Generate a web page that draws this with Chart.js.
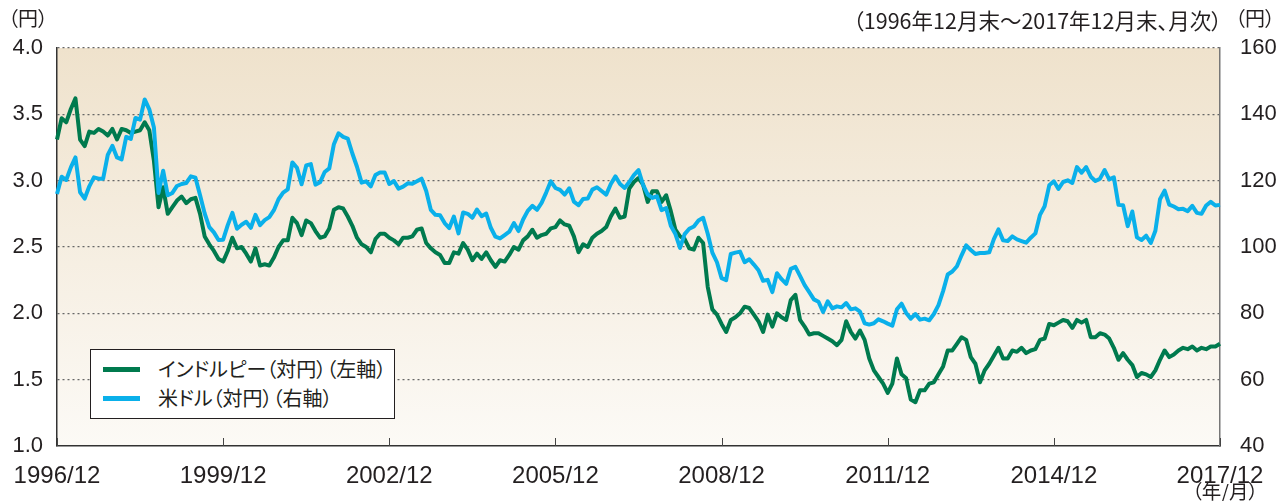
<!DOCTYPE html>
<html lang="ja">
<head>
<meta charset="utf-8">
<script src="https://cdn.jsdelivr.net/npm/chart.js@4"></script>
<style>
  html, body { margin: 0; padding: 0; background: #fff; }
  #wrap { position: relative; width: 1277px; height: 501px; overflow: hidden; }
  #chart { position: absolute; left: 0; top: 0; }
  .jp {
    position: absolute;
    font-family: "Noto Sans CJK JP", "Noto Sans", sans-serif;
    font-feature-settings: "palt";
    color: #231f20;
    white-space: nowrap;
    line-height: 1;
  }
  #legend {
    position: absolute; left: 90px; top: 349px; width: 303px; height: 68px;
    border: 1px solid #231f20; background: #fff;
  }
  .row { position: absolute; left: 12px; height: 22px; }
  .row .swatch { position: absolute; left: 0; top: 9px; width: 37px; height: 5px; }
  .row .txt { left: 55px; top: 1px; font-size: 20px; }
</style>
</head>
<body>
<div id="wrap">
  <canvas id="chart" width="1277" height="501"></canvas>
  <div class="jp" style="left:8px; top:8px; font-size:20px;">（円）</div>
  <div class="jp" style="right:55px; top:9px; font-size:21.5px;">（1996年12月末〜2017年12月末、月次）</div>
  <div class="jp" style="left:1235px; top:8px; font-size:20px;">（円）</div>
  <div class="jp" style="left:1192px; top:481px; font-size:19.5px;">（年/月）</div>
  <div id="legend">
    <div class="row" style="top:8px;"><div class="swatch" style="background:#007a4e"></div><div class="jp txt">インドルピー（対円）（左軸）</div></div>
    <div class="row" style="top:37px;"><div class="swatch" style="background:#0ab0ea"></div><div class="jp txt">米ドル（対円）（右軸）</div></div>
  </div>
</div>
<script>
// month-end labels, 1996/12 .. 2017/12
const months = [];
for (let y = 1996; y <= 2017; y++) {
    for (let m = 1; m <= 12; m++) {
        if (y === 1996 && m < 12) continue;
        months.push(y + '/' + m);
    }
}
const xTickLabels = ['1996/12', '1999/12', '2002/12', '2005/12', '2008/12', '2011/12', '2014/12', '2017/12'];

// INR/JPY (left axis)
const inrJpy = [
    3.31,
    3.47, 3.44, 3.54, 3.62, 3.31, 3.26, 3.37, 3.36, 3.39, 3.37, 3.34, 3.39,
    3.31, 3.39, 3.38, 3.36, 3.37, 3.38, 3.44, 3.38, 3.15, 2.80, 2.95, 2.75,
    2.80, 2.85, 2.88, 2.83, 2.86, 2.87, 2.75, 2.58, 2.52, 2.47, 2.41, 2.39,
    2.47, 2.57, 2.49, 2.50, 2.45, 2.39, 2.49, 2.36, 2.37, 2.36, 2.42, 2.50,
    2.55, 2.55, 2.72, 2.68, 2.59, 2.70, 2.68, 2.62, 2.57, 2.58, 2.64, 2.78,
    2.80, 2.79, 2.73, 2.66, 2.57, 2.52, 2.50, 2.46, 2.56, 2.60, 2.60, 2.57,
    2.55, 2.52, 2.57, 2.57, 2.58, 2.63, 2.64, 2.53, 2.49, 2.46, 2.44, 2.38,
    2.38, 2.46, 2.45, 2.53, 2.48, 2.40, 2.45, 2.41, 2.46, 2.40, 2.35, 2.40,
    2.39, 2.44, 2.50, 2.48, 2.55, 2.58, 2.63, 2.57, 2.59, 2.60, 2.64, 2.65,
    2.70, 2.67, 2.66, 2.58, 2.46, 2.52, 2.50, 2.57, 2.60, 2.62, 2.65, 2.73,
    2.79, 2.72, 2.73, 2.94, 2.99, 3.02, 2.97, 2.84, 2.92, 2.92, 2.84, 2.89,
    2.77, 2.63, 2.58, 2.56, 2.49, 2.48, 2.57, 2.53, 2.20, 2.03, 1.99, 1.92,
    1.86, 1.95, 1.97, 2.00, 2.05, 2.04, 1.99, 1.94, 1.86, 1.99, 1.90, 2.00,
    1.97, 1.95, 2.10, 2.14, 1.95, 1.90, 1.84, 1.85, 1.85, 1.83, 1.81, 1.79,
    1.76, 1.80, 1.94, 1.86, 1.81, 1.87, 1.80, 1.66, 1.57, 1.52, 1.47, 1.40,
    1.47, 1.66, 1.54, 1.51, 1.35, 1.33, 1.42, 1.42, 1.47, 1.48, 1.54, 1.60,
    1.72, 1.72, 1.77, 1.82, 1.80, 1.67, 1.62, 1.48, 1.57, 1.62, 1.68, 1.74,
    1.66, 1.66, 1.72, 1.71, 1.74, 1.70, 1.72, 1.73, 1.80, 1.81, 1.92, 1.91,
    1.93, 1.95, 1.94, 1.89, 1.95, 1.93, 1.95, 1.82, 1.82, 1.85, 1.84, 1.81,
    1.74, 1.65, 1.70, 1.65, 1.61, 1.52, 1.55, 1.54, 1.52, 1.57, 1.65, 1.72,
    1.67, 1.69, 1.72, 1.74, 1.73, 1.75, 1.72, 1.74, 1.73, 1.75, 1.75, 1.77
];

// USD/JPY (right axis)
const usdJpy = [
    116.0,
    121.2, 120.2, 124.0, 127.0, 116.5, 114.6, 118.3, 121.0, 120.6, 120.6, 127.8, 130.5,
    127.0, 126.4, 133.2, 132.6, 138.9, 138.4, 144.5, 141.5, 136.0, 116.3, 123.0, 115.6,
    116.3, 118.4, 119.0, 119.3, 121.3, 120.9, 115.6, 110.1, 106.0, 104.4, 102.1, 102.2,
    106.6, 110.3, 105.5, 106.7, 107.6, 105.8, 109.7, 106.6, 108.1, 109.0, 111.1, 114.4,
    116.4, 117.4, 125.5, 123.9, 118.9, 124.6, 125.0, 118.8, 119.5, 122.6, 123.7, 131.0,
    134.3, 133.2, 132.7, 128.2, 124.2, 119.4, 119.8, 118.3, 121.7, 122.5, 122.5, 119.0,
    119.9, 117.6, 118.2, 119.2, 119.1, 119.8, 120.6, 116.9, 111.2, 109.7, 109.6, 107.2,
    105.7, 109.2, 104.1, 110.4, 110.0, 108.8, 111.3, 109.3, 110.1, 105.8, 103.1, 102.6,
    103.6, 104.6, 107.2, 104.8, 108.3, 110.9, 112.4, 111.2, 113.3, 116.4, 119.8, 117.8,
    117.2, 115.8, 117.7, 113.7, 112.6, 114.5, 114.6, 117.3, 118.0, 116.9, 115.8, 119.0,
    121.3, 119.0, 117.8, 119.6, 121.7, 123.2, 118.7, 115.8, 114.8, 115.3, 111.1, 111.7,
    106.4, 103.9, 99.7, 103.9, 105.5, 106.2, 108.0, 108.8, 104.0, 98.3, 95.4, 90.6,
    90.0, 97.9, 98.3, 98.6, 95.4, 96.3, 94.7, 93.0, 89.8, 90.1, 86.4, 92.1,
    90.3, 88.9, 93.4, 94.0, 91.3, 88.5, 86.4, 84.2, 83.5, 80.4, 83.6, 81.5,
    82.1, 81.8, 83.1, 81.2, 81.5, 80.5, 77.0, 76.6, 77.0, 78.2, 77.6, 76.9,
    76.3, 81.2, 82.9, 80.1, 78.4, 79.8, 78.1, 78.4, 77.9, 79.8, 82.5, 86.7,
    91.7, 92.6, 94.2, 97.5, 100.5, 99.1, 97.9, 98.2, 98.2, 98.4, 102.4, 105.3,
    102.0, 101.8, 103.2, 102.3, 101.8, 101.3, 102.8, 104.1, 109.7, 112.3, 118.6, 119.8,
    117.5, 119.6, 120.1, 119.3, 124.1, 122.4, 124.1, 121.2, 119.9, 120.6, 123.2, 120.4,
    121.0, 112.7, 112.6, 106.3, 110.7, 102.9, 102.1, 103.4, 101.2, 104.9, 114.4, 117.0,
    112.8, 112.2, 111.4, 111.5, 110.8, 112.4, 110.3, 110.0, 112.5, 113.6, 112.5, 112.7
];

const yFont = { family: "'Liberation Sans', Arial, sans-serif", size: 22 };
const xFont = { family: "'Liberation Sans', Arial, sans-serif", size: 24 };
const textColor = '#231f20';

// beige gradient behind the plot, and short inward tick marks on the x axis
const plotBackground = {
    id: 'plotBackground',
    beforeDraw(chart) {
        const { ctx, chartArea: a } = chart;
        const g = ctx.createLinearGradient(0, a.top, 0, a.bottom);
        g.addColorStop(0, '#efe2cc');
        g.addColorStop(1, '#fcfaf6');
        ctx.save();
        ctx.fillStyle = g;
        ctx.fillRect(a.left, a.top, a.width, a.height);
        ctx.restore();
    },
    afterDraw(chart) {
        const { ctx, chartArea: a, scales } = chart;
        ctx.save();
        ctx.strokeStyle = '#444';
        ctx.lineWidth = 1;
        xTickLabels.forEach(function(lab) {
            const x = Math.round(scales.x.getPixelForValue(months.indexOf(lab))) + 0.5;
            ctx.beginPath();
            ctx.moveTo(x, a.bottom);
            ctx.lineTo(x, a.bottom - 8);
            ctx.stroke();
        });
        ctx.restore();
    }
};

new Chart(document.getElementById('chart').getContext('2d'), {
    type: 'line',
    data: {
        labels: months,
        datasets: [{
            label: 'インドルピー（対円）（左軸）',
            data: inrJpy,
            yAxisID: 'y',
            borderColor: '#007a4e',
            borderWidth: 4,
            pointRadius: 0,
            tension: 0,
            borderJoinStyle: 'round',
            order: 1
        }, {
            label: '米ドル（対円）（右軸）',
            data: usdJpy,
            yAxisID: 'y2',
            borderColor: '#0ab0ea',
            borderWidth: 4,
            pointRadius: 0,
            tension: 0,
            borderJoinStyle: 'round',
            order: 0
        }]
    },
    options: {
        responsive: false,
        animation: false,
        layout: { padding: { top: 48, left: 0, right: 0, bottom: 0 } },
        plugins: { legend: { display: false }, tooltip: { enabled: false } },
        scales: {
            x: {
                offset: false,
                grid: { display: false },
                border: { display: true, color: '#333', width: 1.5 },
                afterFit(scale) { scale.height = 55; },
                ticks: {
                    autoSkip: false,
                    maxRotation: 0,
                    padding: 8,
                    color: textColor,
                    font: xFont,
                    callback(val) {
                        const lab = this.getLabelForValue(val);
                        return xTickLabels.includes(lab) ? lab : null;
                    }
                }
            },
            y: {
                position: 'left',
                min: 1, max: 4,
                afterFit(scale) { scale.width = 57; },
                border: { display: true, color: '#333', width: 1.5, dash: [2, 3] },
                grid: {
                    drawTicks: false,
                    lineWidth: 1.2,
                    color(ctx) { return ctx.tick && ctx.tick.value === 1 ? 'rgba(0,0,0,0)' : '#666'; }
                },
                ticks: {
                    stepSize: 0.5,
                    padding: 14,
                    color: textColor,
                    font: yFont,
                    callback(v) { return v.toFixed(1); }
                }
            },
            y2: {
                position: 'right',
                min: 40, max: 160,
                afterFit(scale) { scale.width = 57; },
                border: { display: true, color: '#777', width: 1.5 },
                grid: { display: false, drawOnChartArea: false },
                ticks: {
                    stepSize: 20,
                    padding: 12,
                    color: textColor,
                    font: yFont
                }
            }
        }
    },
    plugins: [plotBackground]
});
</script>
</body>
</html>
